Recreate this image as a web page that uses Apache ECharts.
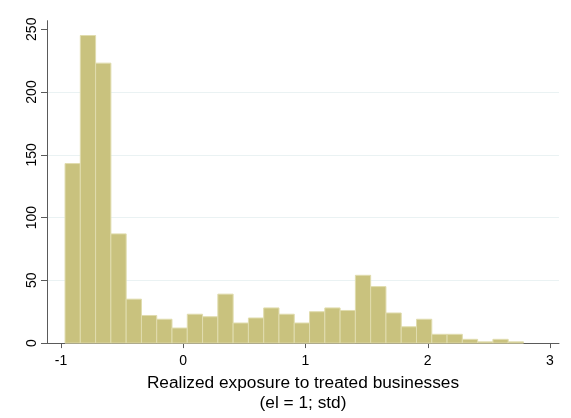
<!DOCTYPE html>
<html>
<head>
<meta charset="utf-8">
<script src="https://cdn.jsdelivr.net/npm/echarts@6/dist/echarts.min.js"></script>
<style>
  html, body { margin: 0; padding: 0; background: #ffffff; }
  #chart { width: 571px; height: 418px; }
</style>
</head>
<body>
<div id="chart"></div>
<script>
// Histogram of realized exposure (standardized), 30 equal-width bins
const binStart = -0.967;
const binWidth = 0.125;
const counts = [143, 245, 223, 87, 35, 22, 19, 12, 23, 21,
                39, 16, 20, 28, 23, 16, 25, 28, 26, 54,
                45, 24, 13, 19, 7, 7, 3, 1, 3, 1];
const xTicks = [-1, 0, 1, 2, 3];
const yTicks = [0, 50, 100, 150, 200, 250];

// [left edge, right edge, frequency] for each bin
const bins = counts.map((c, i) => [binStart + i * binWidth, binStart + (i + 1) * binWidth, c]);

const FONT = '"Liberation Sans", Arial, Helvetica, sans-serif';
const axisGray = '#5a5a5a';

const chart = echarts.init(document.getElementById('chart'), null, { renderer: 'canvas' });
chart.setOption({
  animation: false,
  backgroundColor: '#ffffff',
  grid: { left: 47, right: 12, top: 20.7, bottom: 74.7 },
  xAxis: {
    type: 'value',
    min: -1.1145,
    max: 3.0736,
    name: 'Realized exposure to treated businesses\n(el = 1; std)',
    nameLocation: 'middle',
    nameGap: 25,
    nameTextStyle: {
      fontFamily: FONT, fontSize: 17.3, color: '#000', lineHeight: 20,
      verticalAlign: 'top', align: 'center'
    },
    axisLine: { show: true, onZero: false, lineStyle: { color: axisGray, width: 1 } },
    axisTick: { show: true, length: 5, customValues: xTicks, lineStyle: { color: axisGray } },
    axisLabel: {
      customValues: xTicks, margin: 11,
      fontFamily: FONT, fontSize: 14, color: '#000'
    },
    splitLine: { show: false }
  },
  yAxis: {
    type: 'value',
    min: 0,
    max: 256.8,
    interval: 50,
    axisLine: { show: true, onZero: false, lineStyle: { color: axisGray, width: 1 } },
    axisTick: { show: true, length: 6, customValues: yTicks, lineStyle: { color: axisGray } },
    axisLabel: {
      customValues: yTicks, rotate: 90, margin: 8,
      fontFamily: FONT, fontSize: 14, color: '#000'
    },
    splitLine: {
      show: true, showMinLine: false, showMaxLine: false,
      lineStyle: { color: '#eaf2f3', width: 1 }
    }
  },
  series: [{
    type: 'custom',
    data: bins,
    encode: { x: [0, 1], y: 2 },
    renderItem: function (params, api) {
      const topLeft = api.coord([api.value(0), api.value(2)]);
      const bottomRight = api.coord([api.value(1), 0]);
      return {
        type: 'rect',
        shape: {
          x: topLeft[0],
          y: topLeft[1],
          width: bottomRight[0] - topLeft[0],
          height: bottomRight[1] - topLeft[1]
        },
        style: { fill: '#c9c27e', stroke: '#e0dcae', lineWidth: 1 }
      };
    }
  }]
});
</script>
</body>
</html>
